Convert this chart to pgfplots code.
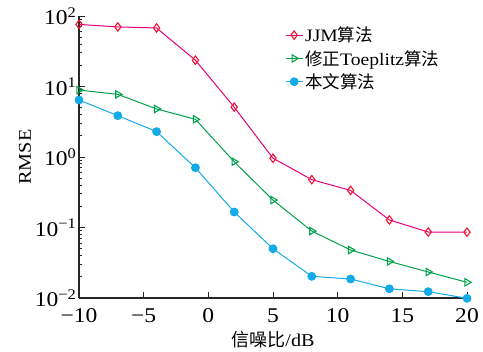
\documentclass[border=0pt]{standalone}
\usepackage{fontspec}
\setmainfont{Liberation Serif}[FakeStretch=1.12]
\newfontfamily\cjk{Noto Sans CJK SC}
\usepackage{pgfplots}
\pgfplotsset{compat=1.18}
\usetikzlibrary{calc}
\definecolor{jjmline}{HTML}{E6007E}
\definecolor{jjmmark}{HTML}{F0142D}
\definecolor{tgreen}{HTML}{00A04A}
\definecolor{oblue}{HTML}{12ABE8}
\begin{document}
\begin{tikzpicture}
\begin{axis}[
  name=ax,
  scale only axis,
  width=388pt, height=282pt,
  ymode=log,
  xmin=-10, xmax=20, ymin=0.01, ymax=100,
  axis lines=left,
  axis line style={-, line width=1.1pt, color=black!85},
  tick align=inside,
  major tick length=6pt,
  tick style={line width=1pt, color=black!85},
  xtick={-10,-5,0,5,10,15,20},
  xticklabels={−10,−5,0,5,10,15,20},
  ytick={0.01,0.1,1,10,100},
  yticklabels={10\textsuperscript{−2},10\textsuperscript{−1},10\textsuperscript{0},10\textsuperscript{1},10\textsuperscript{2}},
  minor tick num=0,
  ticklabel style={font=\fontsize{21}{23}\selectfont},
  xticklabel style={yshift=-7pt},
  yticklabel style={xshift=1pt},
  xlabel={{\cjk 信噪比}/dB},
  ylabel={RMSE},
  label style={font=\fontsize{18}{20}\selectfont},
  xlabel style={yshift=-2pt},
  ylabel style={yshift=-3pt},
  legend style={draw=none, fill=none, at={(0.523,0.976)}, anchor=north west,
    font=\fontsize{17.5}{20}\selectfont, row sep=3pt,
    /tikz/every even column/.append style={column sep=2pt}},
  legend cell align=left,
  clip=false,
]
\addplot[color=jjmline, line width=1pt, mark=diamond, mark size=4.2pt,
  mark options={draw=jjmmark, line width=1.1pt, fill=white}]
  coordinates {(-10,76) (-7,70) (-4,67.6) (-1,23.6) (2,5.1) (5,0.96) (8,0.477) (11,0.336) (14,0.128) (17,0.0863) (20,0.086)};
\addlegendentry{JJM{\cjk 算法}}
\addplot[color=tgreen, line width=1pt, mark=triangle, mark size=4.2pt,
  mark options={rotate=-90, line width=1.1pt, fill=white}]
  coordinates {(-10,8.9) (-7,7.74) (-4,4.8) (-1,3.43) (2,0.857) (5,0.245) (8,0.089) (11,0.048) (14,0.033) (17,0.0234) (20,0.0167)};
\addlegendentry{{\cjk 修正}Toeplitz{\cjk 算法}}
\addplot[color=oblue, line width=1pt, mark=*, mark size=3.9pt,
  mark options={fill=oblue}]
  coordinates {(-10,6.44) (-7,3.86) (-4,2.29) (-1,0.705) (2,0.166) (5,0.050) (8,0.0203) (11,0.0186) (14,0.0135) (17,0.0123) (20,0.0099)};
\addlegendentry{{\cjk 本文算法}}
\end{axis}
\path ($(ax.south west)+(-79pt,-51pt)$) rectangle ($(ax.north east)+(16pt,16pt)$);
\end{tikzpicture}
\end{document}
